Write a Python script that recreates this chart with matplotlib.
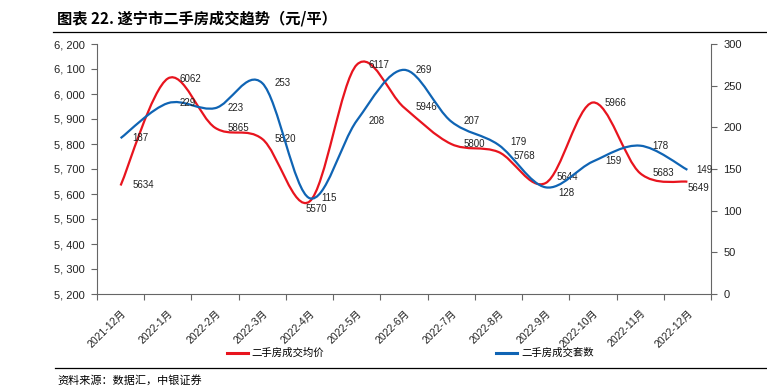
import matplotlib.pyplot as plt
from matplotlib.path import Path
from matplotlib.patches import PathPatch
from matplotlib.lines import Line2D
from matplotlib.ticker import FuncFormatter, MultipleLocator
import numpy as np

# 폰트: 숫자는 Liberation Sans, 한자는 Noto Sans CJK SC 로 대체
plt.rcParams['font.family'] = ['Liberation Sans', 'Noto Sans CJK SC']
plt.rcParams['axes.unicode_minus'] = False

months = ['2021-12月', '2022-1月', '2022-2月', '2022-3月', '2022-4月', '2022-5月',
          '2022-6月', '2022-7月', '2022-8月', '2022-9月', '2022-10月', '2022-11月', '2022-12月']
avg_price = [5634, 6062, 5865, 5820, 5570, 6117, 5946, 5800, 5768, 5644, 5966, 5683, 5649]
deal_count = [187, 229, 223, 253, 115, 208, 269, 207, 179, 128, 159, 178, 149]

RED = '#E8141E'
BLUE = '#0F64B4'


def smooth_path(xs, ys):
    # Excel 스타일 부드러운 선 (Catmull-Rom -> 베지어)
    p = np.column_stack([xs, ys]).astype(float)
    n = len(p)
    verts = [p[0]]
    codes = [Path.MOVETO]
    for i in range(n - 1):
        p0 = p[i - 1] if i > 0 else p[i]
        p1, p2 = p[i], p[i + 1]
        p3 = p[i + 2] if i + 2 < n else p[i + 1]
        verts += [p1 + (p2 - p0) / 6, p2 - (p3 - p1) / 6, p2]
        codes += [Path.CURVE4] * 3
    return Path(verts, codes)


fig = plt.figure(figsize=(7.67, 3.88), dpi=100)
ax = fig.add_axes([97 / 767, 1 - 294 / 388, 614 / 767, 250 / 388])
ax2 = ax.twinx()

x = np.arange(len(months))
ax.set_xlim(-0.5, len(months) - 0.5)
ax.set_ylim(5200, 6200)
ax2.set_ylim(0, 300)

ax.add_patch(PathPatch(smooth_path(x, avg_price), fill=False, edgecolor=RED, lw=1.6, zorder=3))
ax2.add_patch(PathPatch(smooth_path(x, deal_count), fill=False, edgecolor=BLUE, lw=1.6, zorder=3))

# 데이터 라벨 (대부분 점의 오른쪽)
lab_kw = dict(textcoords='offset pixels', fontsize=7, va='center', ha='left', color='#222222')
for i, v in enumerate(avg_price):
    off = (12, 0)
    if i == 4:
        off, ha = (7, -8), 'center'
    elif i == 12:
        off, ha = (0, -6), 'left'
    elif i == 8:
        off, ha = (15, -4), 'left'
    elif i == 9:
        off, ha = (11, 6), 'left'
    else:
        ha = 'left'
    kw = dict(lab_kw)
    kw['ha'] = ha
    ax.annotate(str(v), (i, v), xytext=off, **kw)
for i, v in enumerate(deal_count):
    off = (12, 0)
    if i == 12:
        off = (9, 0)
    elif i == 8:
        off = (12, 3)
    elif i == 9:
        off = (13, -6)
    ax2.annotate(str(v), (i, v), xytext=off, **lab_kw)

# 축 스타일
for a in (ax, ax2):
    a.spines['top'].set_visible(False)
    for s in ('left', 'right', 'bottom'):
        a.spines[s].set_color('#666666')
        a.spines[s].set_linewidth(0.8)
ax.spines['right'].set_visible(False)
ax2.spines['left'].set_visible(False)
ax2.spines['bottom'].set_visible(False)

ax.yaxis.set_major_locator(MultipleLocator(100))
ax.yaxis.set_major_formatter(FuncFormatter(lambda v, p: f'{int(v):,}'.replace(',', ', ')))
ax2.yaxis.set_major_locator(MultipleLocator(50))
ax.tick_params(axis='y', direction='out', length=4, width=0.8, color='#666666', labelsize=8, pad=5,
               labelcolor='#222222')
ax2.tick_params(axis='y', direction='out', length=4, width=0.8, color='#666666', labelsize=8, pad=5,
                labelcolor='#222222')

ax.set_xticks(x)
ax.set_xticklabels(months, rotation=45, ha='right', rotation_mode='anchor', fontsize=7.5,
                   color='#222222')
ax.set_xticks(np.arange(-0.5, len(months)), minor=True)
ax.tick_params(axis='x', which='major', length=0, pad=10)
ax.tick_params(axis='x', which='minor', direction='out', length=4, width=0.8, color='#666666')

# 범례
handles = [Line2D([], [], color=RED, lw=2.2), Line2D([], [], color=BLUE, lw=2.2)]
fig.legend(handles, ['二手房成交均价', '二手房成交套数'], loc='center', ncol=2,
           bbox_to_anchor=(0.535, 1 - 353 / 388), frameon=False, fontsize=7.5,
           handlelength=2.0, handletextpad=0.4, columnspacing=16.5)

# 제목과 출처
fig.text(57 / 767, 1 - 19 / 388, '图表 22. 遂宁市二手房成交趋势（元/平）', fontsize=11,
         fontweight='bold', va='center', ha='left', family=['Noto Sans CJK SC'])
fig.add_artist(Line2D([53 / 767, 1.0], [1 - 32 / 388] * 2, color='black', lw=0.9))
fig.add_artist(Line2D([55 / 767, 1.0], [1 - 368 / 388] * 2, color='black', lw=0.9))
fig.text(57 / 767, 1 - 380 / 388, '资料来源：数据汇，中银证券', fontsize=8, style='italic',
         va='center', ha='left', family=['Noto Sans CJK SC'])

fig.savefig('out.png', dpi=100)
